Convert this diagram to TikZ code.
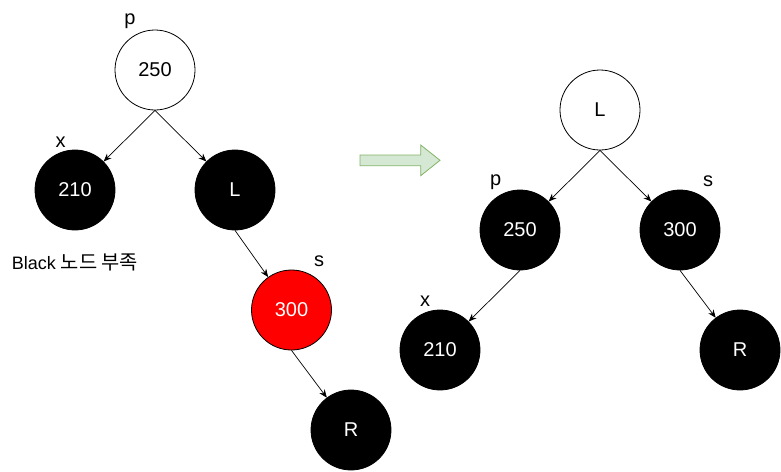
\documentclass[tikz,border=0pt]{standalone}
\usepackage{fontspec}
\setmainfont{Liberation Sans}
\newfontfamily\krfont[Scale=1.1]{Noto Sans CJK KR}
\usetikzlibrary{arrows.meta}
\definecolor{arrowfill}{HTML}{D5E8D4}
\definecolor{arrowline}{HTML}{82B366}
\begin{document}
\begin{tikzpicture}[x=1pt,y=-1pt,
  rbnode/.style={circle,draw=black,line width=0.8pt,minimum size=80pt,inner sep=0pt,font=\fontsize{20}{22}\selectfont},
  blknode/.style={rbnode,fill=black,text=white},
  whtnode/.style={rbnode,fill=white,text=black},
  rednode/.style={rbnode,fill=red,text=white},
  lbl/.style={inner sep=0pt,font=\fontsize{18}{20}\selectfont},
  tag/.style={inner sep=0pt,font=\fontsize{20}{22}\selectfont},
  edge/.style={-{Stealth[length=8pt,width=6.5pt]},line width=0.7pt}]
\useasboundingbox (0,0) rectangle (781,471);
% left tree
\node[whtnode] (lp) at (155,70) {250};
\node[blknode] (lx) at (75,190) {210};
\node[blknode] (lL) at (235,190) {L};
\node[rednode] (ls) at (291.5,310) {300};
\node[blknode] (lR) at (351,430) {R};
\node[tag] (lplbl) at (130,21) {p};
\node[tag] (lxlbl) at (60.5,142) {x};
\node[tag] (lslbl) at (319,261) {s};
\node[lbl] (note) at (75,262) {Black {\krfont 노드 부족}};
\draw[edge] (lp.south) -- (lx);
\draw[edge] (lp.south) -- (lL);
\draw[edge] (lL.south) -- (ls);
\draw[edge] (ls.south) -- (lR);
% transition arrow
\draw[fill=arrowfill,draw=arrowline,line width=0.8pt]
  (360,155) -- (420.7,155) -- (420.7,145) -- (440,160.3) -- (420.7,175.7) -- (420.7,165.7) -- (360,165.7) -- cycle;
% right tree
\node[whtnode] (rL) at (600,110) {L};
\node[blknode] (rp) at (520,230) {250};
\node[blknode] (rs) at (680,230) {300};
\node[blknode] (rx) at (440,350) {210};
\node[blknode] (rR) at (740,350) {R};
\node[tag] (rplbl) at (495.7,182) {p};
\node[tag] (rslbl) at (708,181) {s};
\node[tag] (rxlbl) at (425,301) {x};
\draw[edge] (rL.south) -- (rp);
\draw[edge] (rL.south) -- (rs);
\draw[edge] (rp.south) -- (rx);
\draw[edge] (rs.south) -- (rR);
\end{tikzpicture}
\end{document}
